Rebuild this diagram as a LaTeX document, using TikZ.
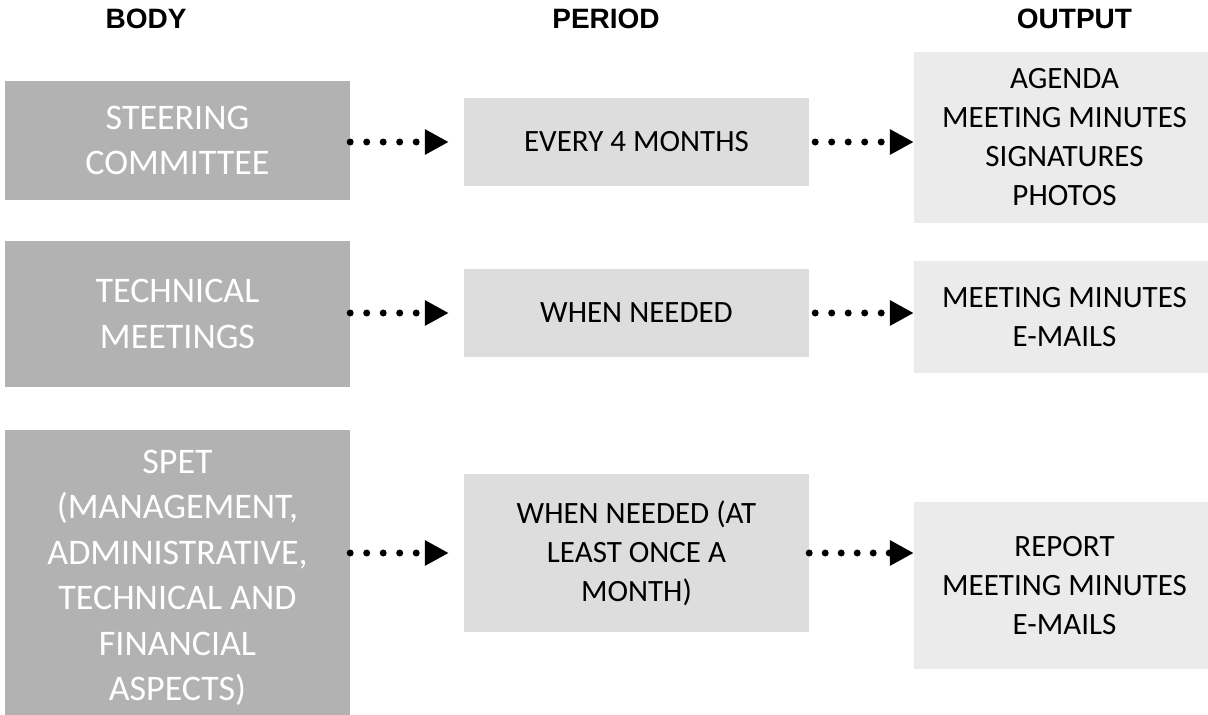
\documentclass[tikz,border=0pt]{standalone}
\usepackage{fontspec}
\setmainfont{Carlito}
\newfontfamily\headfont{Liberation Sans}
\usetikzlibrary{arrows.meta}
\definecolor{bodygray}{HTML}{B2B2B2}
\definecolor{periodgray}{HTML}{DDDDDD}
\definecolor{outputgray}{HTML}{EBEBEB}

\begin{document}
\begin{tikzpicture}[x=1pt,y=-1pt,
  header/.style={font=\headfont\bfseries\fontsize{28}{34}\selectfont, anchor=base, inner sep=0pt},
  bodybox/.style={fill=bodygray, text=white, minimum width=345pt, inner sep=0pt,
    align=center, font=\fontsize{36}{45.5}\selectfont},
  periodbox/.style={fill=periodgray, minimum width=345pt, inner sep=0pt,
    align=center, font=\fontsize{31}{39}\selectfont},
  outputbox/.style={fill=outputgray, minimum width=301pt, inner sep=0pt,
    align=center, font=\fontsize{31}{39}\selectfont},
  flow/.style={line width=7pt, line cap=round, dash pattern=on 0pt off 16.5pt,
    -{Triangle[length=24pt,width=24pt]}},
]
\useasboundingbox (0,0) rectangle (1208,715);

% column headings
\node[header] (hbody) at (146,28) {BODY};
\node[header] (hperiod) at (606,28) {PERIOD};
\node[header] (houtput) at (1074.5,28) {OUTPUT};

% bodies
\node[bodybox, minimum height=119pt] (b1) at (177.5,140.5) {STEERING\\COMMITTEE};
\node[bodybox, minimum height=146pt] (b2) at (177.5,314) {TECHNICAL\\MEETINGS};
\node[bodybox, minimum height=296pt] (b3) at (177.5,578)
  {SPET\\(MANAGEMENT,\\ADMINISTRATIVE,\\TECHNICAL AND\\FINANCIAL\\ASPECTS)};

% periods
\node[periodbox, minimum height=88pt] (p1) at (636.5,142) {EVERY 4 MONTHS};
\node[periodbox, minimum height=88pt] (p2) at (636.5,313) {WHEN NEEDED};
\node[periodbox, minimum height=158pt] (p3) at (636.5,553)
  {WHEN NEEDED (AT\\LEAST ONCE A\\MONTH)};

% outputs
\node[outputbox, minimum height=171pt] (o1) at (1064.5,137.5)
  {AGENDA\\MEETING MINUTES\\SIGNATURES\\PHOTOS};
\node[outputbox, minimum height=112pt] (o2) at (1064.5,317)
  {MEETING MINUTES\\E-MAILS};
\node[outputbox, minimum height=167pt] (o3) at (1064.5,585.5)
  {REPORT\\MEETING MINUTES\\E-MAILS};

% dotted connectors
\draw[flow, shorten >=15pt] (b1.east |- p1) -- (p1.west);
\draw[flow, shorten <=6pt] (p1.east) -- (o1.west |- p1);
\draw[flow, shorten >=15pt] (b2.east |- p2) -- (p2.west);
\draw[flow, shorten <=6pt] (p2.east) -- (o2.west |- p2);
\draw[flow, shorten >=15pt] (b3.east |- p3) -- (p3.west);
\draw[flow, dash pattern=on 0pt off 16pt] (p3.east) -- (o3.west |- p3);
\end{tikzpicture}
\end{document}
